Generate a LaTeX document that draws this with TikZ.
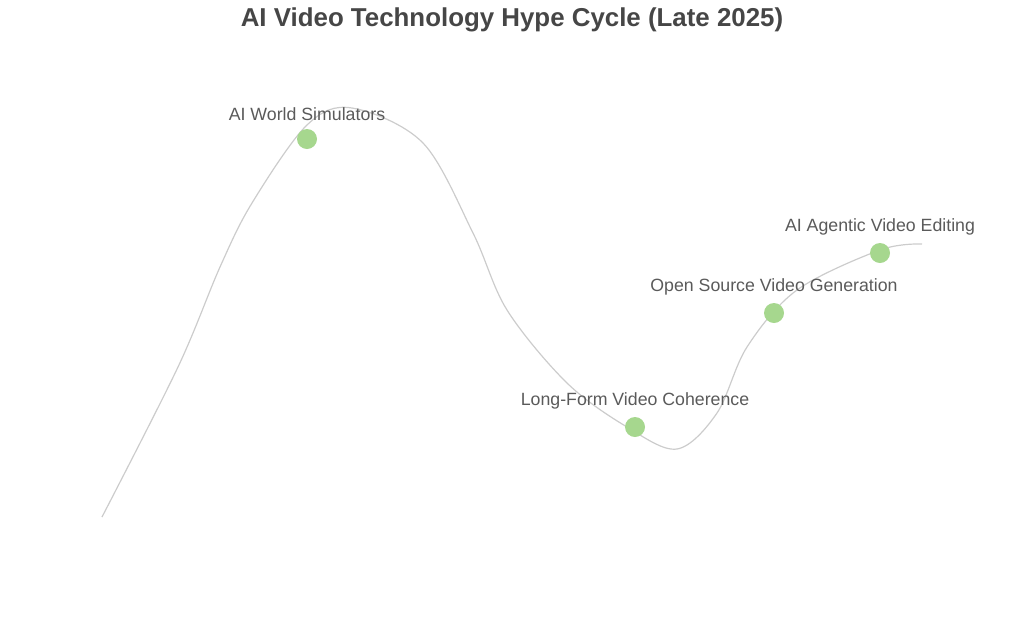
\documentclass[tikz,border=0pt]{standalone}
\usepackage{fontspec}
\setmainfont{Liberation Sans}
\definecolor{titlec}{HTML}{464646}
\definecolor{labelc}{HTML}{5A5A5A}
\definecolor{curvec}{HTML}{CCCCCC}
\definecolor{dotc}{HTML}{A6D78E}
\begin{document}
\begin{tikzpicture}[x=0.75pt,y=-0.75pt,
  dot/.style={circle,fill=dotc,inner sep=0pt,minimum size=15pt},
  lbl/.style={text=labelc,font=\fontsize{13.3}{16}\selectfont,inner sep=0pt,anchor=center},
  ttl/.style={text=titlec,font=\fontsize{19.4}{23}\selectfont\bfseries,inner sep=0pt,anchor=center}]
\useasboundingbox (0,0) rectangle (1024,640);
\node[ttl] (title) at (512,20) {AI Video Technology Hype Cycle (Late 2025)};
\draw[curvec,line width=0.9pt] plot[smooth,tension=0.55] coordinates {
 (102,517) (178,367) (220,267) (252,203) (307,125) (352,108) (423,143)
 (473,233) (507,310) (567,383) (627,427) (677,449) (717,413) (747,347)
 (797,290) (880,250) (922,244)};
\node[dot] (d1) at (307,139) {};
\node[dot] (d2) at (635,427) {};
\node[dot] (d3) at (774,313) {};
\node[dot] (d4) at (880,253) {};
\node[lbl] (l1) at (307,114) {AI World Simulators};
\node[lbl] (l2) at (635,401) {Long-Form Video Coherence};
\node[lbl] (l3) at (774,287) {Open Source Video Generation};
\node[lbl] (l4) at (880,227) {AI Agentic Video Editing};
\end{tikzpicture}
\end{document}
